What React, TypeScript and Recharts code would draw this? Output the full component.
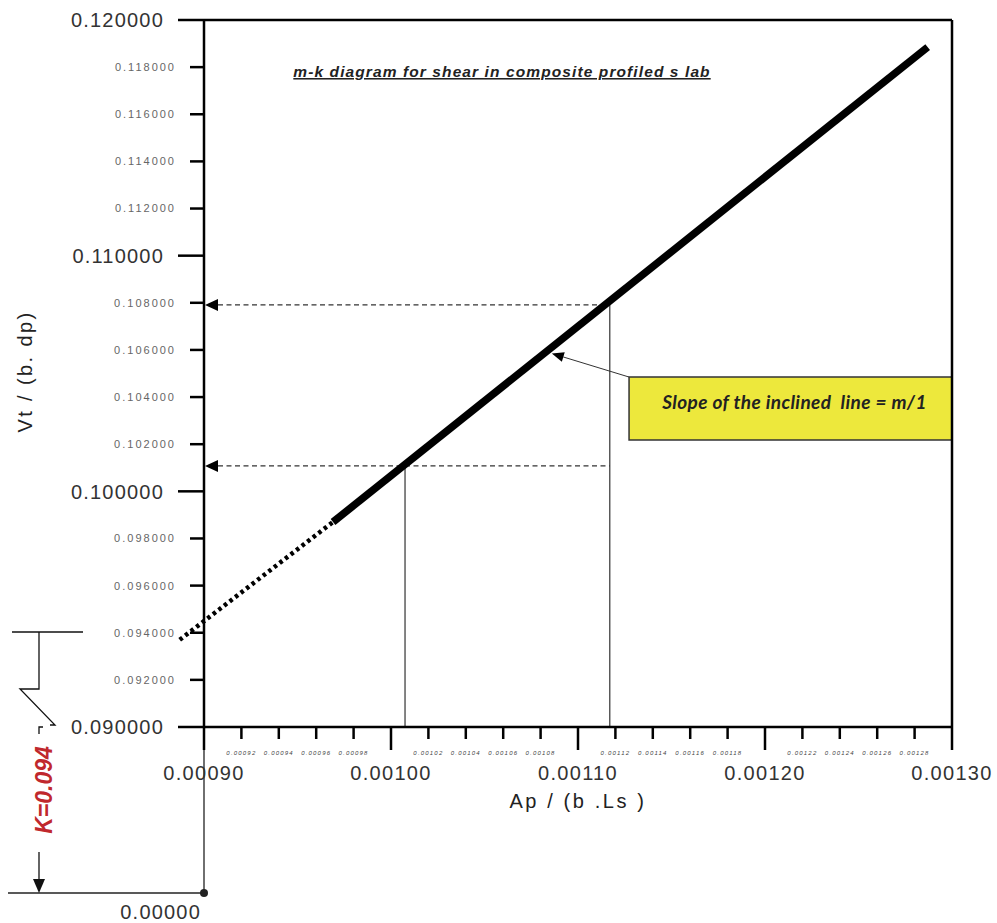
import React from "react";
import {
  ComposedChart,
  Line,
  XAxis,
  YAxis,
  ReferenceLine,
  ReferenceArea,
  Customized,
} from "recharts";

// ticks (major every 0.0001 / 0.01, minor in between)
const xTicks = [
  0.0009, 0.00092, 0.00094, 0.00096, 0.00098, 0.001, 0.00102, 0.00104, 0.00106, 0.00108,
  0.0011, 0.00112, 0.00114, 0.00116, 0.00118, 0.0012, 0.00122, 0.00124, 0.00126, 0.00128, 0.0013,
];
const yTicks = [
  0.09, 0.092, 0.094, 0.096, 0.098, 0.1, 0.102, 0.104, 0.106, 0.108, 0.11, 0.112, 0.114, 0.116,
  0.118, 0.12,
];

// m-k regression line (solid) and its extrapolation towards the axis (dotted)
const mkLine = [
  { ap: 0.000969, vt: 0.0987 },
  { ap: 0.001287, vt: 0.11885 },
];
const mkExtension = [
  { ap: 0.000887, vt: 0.0937 },
  { ap: 0.000969, vt: 0.0987 },
];

// read-off points on the line
const readings = [
  { ap: 0.0010075, vt: 0.10108 },
  { ap: 0.001117, vt: 0.10791 },
];

// callout box + pointer
const calloutBox = { x1: 0.0011273, x2: 0.0013, y1: 0.10218, y2: 0.10485 };
const calloutTarget = { ap: 0.001086, vt: 0.10585 };
const calloutText = "Slope of the inclined  line = m/1";

const title = "m-k diagram for shear in composite profiled s lab";
const xTitle = "Ap / (b .Ls )";
const yTitle = "Vt / (b. dp)";
const kLabel = "K=0.094";
const originLabel = "0.00000";

const M = { top: 20, right: 45, bottom: 195, left: 203 };
const W = 997;
const H = 923;
const PL = 204;
const PR = W - M.right;
const PT = M.top;
const PB = 727;
const FONT = "'Liberation Sans', Arial, sans-serif";

function YTick({ x, y, payload }: any) {
  const v: number = payload.value;
  const major = Math.round(v * 1000) % 10 === 0;
  const len = major ? 26 : 14;
  return (
    <g>
      <line x1={x - len} x2={x} y1={y} y2={y} stroke="#000" strokeWidth={2.5} />
      <text
        x={x - len - 14}
        y={y}
        dy="0.36em"
        textAnchor="end"
        fontFamily={FONT}
        fontSize={major ? 20 : 11}
        letterSpacing={major ? 1.2 : 2}
        fill={major ? "#333" : "#666"}
      >
        {v.toFixed(6)}
      </text>
    </g>
  );
}

function XTick({ x, y, payload }: any) {
  const v: number = payload.value;
  const major = Math.round(v * 100000) % 10 === 0;
  const len = major ? 23 : 12;
  return (
    <g>
      <line x1={x} x2={x} y1={y} y2={y + len} stroke="#000" strokeWidth={2.5} />
      {major ? (
        <text x={x} y={y + 46} dy="0.36em" textAnchor="middle" fontFamily={FONT} fontSize={20} letterSpacing={1.3} fill="#333">
          {v.toFixed(5)}
        </text>
      ) : (
        <text x={x} y={y + 26} dy="0.36em" textAnchor="middle" fontFamily={FONT} fontSize={6} fontStyle="italic" letterSpacing={1.2} fill="#444">
          {v.toFixed(5)}
        </text>
      )}
    </g>
  );
}

// line with arrow head at its start (x1,y1)
function ArrowShape(props: any) {
  const { x1, y1, x2, y2, dashed, lineWidth = 1.3, head = 13, half = 6 } = props;
  const ang = Math.atan2(y2 - y1, x2 - x1);
  const bx = x1 + Math.cos(ang) * head;
  const by = y1 + Math.sin(ang) * head;
  const px = -Math.sin(ang) * half;
  const py = Math.cos(ang) * half;
  return (
    <g>
      <line x1={bx} y1={by} x2={x2} y2={y2} stroke="#333" strokeWidth={lineWidth} strokeDasharray={dashed ? "5 3.5" : undefined} />
      <polygon points={`${x1},${y1} ${bx + px},${by + py} ${bx - px},${by - py}`} fill="#000" />
    </g>
  );
}

function CalloutLabel({ viewBox }: any) {
  const cx = viewBox.x + viewBox.width / 2;
  const cy = viewBox.y + viewBox.height / 2;
  return (
    <text
      x={cx + 4}
      y={cy - 6}
      dy="0.36em"
      textAnchor="middle"
      fontFamily="Lato, 'Open Sans', sans-serif"
      fontSize={19}
      fontWeight="bold"
      fontStyle="italic"
      letterSpacing={0.4}
      fill="#222"
      style={{ whiteSpace: "pre" }}
    >
      {calloutText}
    </text>
  );
}

function Overlay() {
  return (
    <g fontFamily={FONT}>
      {/* title */}
      <text x={502} y={77} textAnchor="middle" fontSize={15.5} fontWeight="bold" fontStyle="italic" letterSpacing={1.1} fill="#222" textDecoration="underline">
        {title}
      </text>
      {/* axis titles */}
      <text x={(PL + PR) / 2} y={808} textAnchor="middle" fontSize={20} letterSpacing={2.6} fill="#222">
        {xTitle}
      </text>
      <text x={0} y={0} transform={`translate(32, ${(PT + PB) / 2 - 2}) rotate(-90)`} textAnchor="middle" fontSize={20} letterSpacing={2.4} fill="#222">
        {yTitle}
      </text>
      {/* broken axis down to the origin */}
      <line x1={PL} x2={PL} y1={PB + 22} y2={893} stroke="#222" strokeWidth={1.3} />
      <line x1={8} x2={PL} y1={893} y2={893} stroke="#222" strokeWidth={1.3} />
      <circle cx={PL} cy={893} r={4} fill="#222" />
      <text x={201} y={919} textAnchor="end" fontSize={20} letterSpacing={1.2} fill="#333">
        {originLabel}
      </text>
      {/* K dimension */}
      <polyline points="12,632 83,632" stroke="#111" strokeWidth={1.3} fill="none" />
      <polyline points="39,632 39,689 20,689 55,725 50,725" stroke="#111" strokeWidth={1.3} fill="none" />
      <polyline points="43,727 39,727 39,734" stroke="#111" strokeWidth={1.3} fill="none" />
      <text x={0} y={0} transform="translate(44, 790) rotate(-90)" dy="0.36em" textAnchor="middle" fontSize={23} fontWeight="bold" fontStyle="italic" fill="#c0282d">
        {kLabel}
      </text>
      <line x1={39} x2={39} y1={852} y2={880} stroke="#111" strokeWidth={1.3} />
      <polygon points="39,893 33,879 45,879" fill="#111" />
    </g>
  );
}

export default function App() {
  return (
    <div style={{ position: "absolute", left: 0, top: 0, background: "#fff" }}>
      <ComposedChart width={W} height={H} margin={M} style={{ fontFamily: FONT }}>
        <XAxis
          type="number"
          dataKey="ap"
          domain={[0.0009, 0.0013]}
          ticks={xTicks}
          allowDataOverflow
          height={1}
          tickSize={0}
          tickMargin={0}
          tickLine={false}
          axisLine={{ stroke: "#000", strokeWidth: 2.5 }}
          tick={<XTick />}
          interval={0}
        />
        <YAxis
          type="number"
          dataKey="vt"
          domain={[0.09, 0.12]}
          ticks={yTicks}
          allowDataOverflow
          width={1}
          tickSize={0}
          tickMargin={0}
          tickLine={false}
          axisLine={{ stroke: "#000", strokeWidth: 2.5 }}
          tick={<YTick />}
          interval={0}
        />
        {/* frame */}
        <ReferenceLine y={0.12} stroke="#000" strokeWidth={2.5} ifOverflow="visible" />
        <ReferenceLine
          segment={[{ x: 0.0013, y: 0.09 }, { x: 0.0013, y: 0.12 }]}
          stroke="#000"
          strokeWidth={2.5}
          ifOverflow="visible"
        />

        {/* vertical read-off lines */}
        {readings.map((r, i) => (
          <ReferenceLine
            key={`v${i}`}
            segment={[{ x: r.ap, y: 0.09 }, { x: r.ap, y: r.vt }]}
            stroke="#333"
            strokeWidth={1.2}
            ifOverflow="visible"
          />
        ))}
        {/* horizontal dashed read-off lines with arrows to the Vt axis */}
        {readings.map((r, i) => (
          <ReferenceLine
            key={`h${i}`}
            segment={[{ x: 0.0009, y: r.vt }, { x: readings[readings.length - 1].ap, y: r.vt }]}
            ifOverflow="visible"
            shape={(p: any) => <ArrowShape {...p} x1={p.x1 + 1} dashed />}
          />
        ))}

        {/* callout */}
        <ReferenceArea
          x1={calloutBox.x1}
          x2={calloutBox.x2}
          y1={calloutBox.y1}
          y2={calloutBox.y2}
          fill="#ede83c"
          fillOpacity={1}
          stroke="#333"
          strokeWidth={1.5}
          ifOverflow="visible"
          label={<CalloutLabel />}
        />
        <ReferenceLine
          segment={[{ x: calloutTarget.ap, y: calloutTarget.vt }, { x: calloutBox.x1, y: calloutBox.y2 }]}
          ifOverflow="visible"
          shape={(p: any) => <ArrowShape {...p} lineWidth={1} head={12} half={5} />}
        />

        {/* dotted extrapolation */}
        <ReferenceLine
          segment={[{ x: mkExtension[0].ap, y: mkExtension[0].vt }, { x: mkExtension[1].ap, y: mkExtension[1].vt }]}
          stroke="#000"
          strokeWidth={4.5}
          strokeDasharray="3.5 3.5"
          ifOverflow="visible"
        />
        {/* m-k line */}
        <Line
          data={mkLine}
          dataKey="vt"
          stroke="#000"
          strokeWidth={7.5}
          dot={false}
          activeDot={false}
          isAnimationActive={false}
          strokeLinecap="butt"
        />
        <Customized component={<Overlay />} />
      </ComposedChart>
    </div>
  );
}
